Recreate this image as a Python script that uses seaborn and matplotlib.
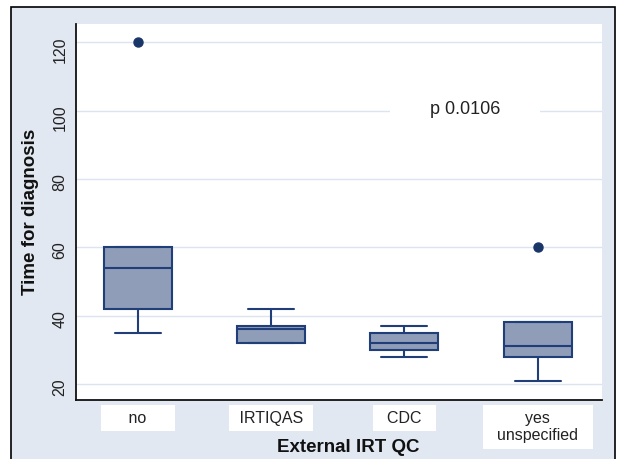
import numpy as np
import pandas as pd
import seaborn as sns
import matplotlib.pyplot as plt
from matplotlib.patches import Rectangle

groups = ["no", "IRTIQAS", "CDC", "yes\nunspecified"]
whisk_lo = [35, 32, 28, 21]
q1 = [42, 32, 30, 28]
median = [54, 36, 32, 31]
q3 = [60, 37, 35, 38]
whisk_hi = [60, 42, 37, 38]
outliers = [[120], [], [], [60]]
p_text = "p 0.0106"

rows = []
for i, g in enumerate(groups):
    for v in (whisk_lo[i], q1[i], median[i], q3[i], whisk_hi[i]):
        rows += [(g, v)] * 25
    rows += [(g, v) for v in outliers[i]]
df = pd.DataFrame(rows, columns=["qc", "time"])

sns.set_style("white")
plt.rcParams['font.family'] = ['Liberation Sans', 'DejaVu Sans']

fill = "#8F9DB9"
edge = "#203F78"
dot = "#1A3668"

fig = plt.figure(figsize=(6.17, 4.59), dpi=100)
fig.patches.append(Rectangle((11/617, -0.05), 604/617, 1.05 - 7/459,
                             transform=fig.transFigure, facecolor="#E2E8F2",
                             edgecolor="black", lw=1.2, zorder=-10))
ax = fig.add_axes([76/617, 59/459, 526/617, 376/459])
ax.set_zorder(1)
ax.set_facecolor("white")

sns.boxplot(data=df, x="qc", y="time", order=groups, width=0.51,
            color=fill, linecolor=edge, linewidth=1.5, saturation=1,
            fliersize=6.5, capwidths=0.345,
            flierprops=dict(marker='o', markerfacecolor=dot, markeredgecolor=dot),
            ax=ax)

ax.set_xlim(-0.464, 3.483)
ax.set_ylim(15.3, 125.4)
ax.set_yticks([20, 40, 60, 80, 100, 120])
ax.yaxis.grid(True, color="#DCE4F0", lw=1)
ax.set_axisbelow(True)

for s in ["top", "right"]:
    ax.spines[s].set_visible(False)
for s in ["left", "bottom"]:
    ax.spines[s].set_color("#111111")
    ax.spines[s].set_linewidth(1.3)

ax.tick_params(axis='y', labelrotation=90, length=5, width=1, pad=1,
               labelsize=11.5, colors="#222222")
ax.tick_params(axis='x', length=0, pad=7.6, labelsize=11.5, colors="#222222")

spaces = [5, 1, 2, 2]
labels = []
for g, n in zip(groups, spaces):
    labels.append("\n".join(" " * n + l + " " * n for l in g.split("\n")))
ax.set_xticks(range(len(groups)))
ax.set_xticklabels(labels)
for t in ax.get_xticklabels():
    t.set_bbox(dict(facecolor="white", edgecolor="none", boxstyle="square,pad=0.35"))

ax.text(2.457, 100.3, p_text, ha="center", va="center", fontsize=13, color="#222222",
        bbox=dict(facecolor="white", edgecolor="none", boxstyle="square,pad=2.2"))

ax.set_ylabel("Time for diagnosis", fontsize=13.5, fontweight="bold", color="#111111")
ax.yaxis.set_label_coords(-0.070, 0.5)
ax.set_xlabel("External IRT QC", fontsize=13.5, fontweight="bold", color="#111111")
ax.xaxis.set_label_coords(0.517, -0.105)

fig.savefig("out.png", dpi=100)
